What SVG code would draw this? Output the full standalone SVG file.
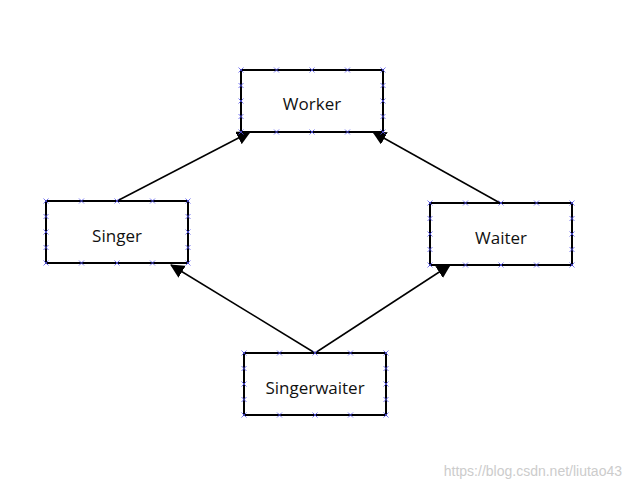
<svg xmlns="http://www.w3.org/2000/svg" xmlns:xlink="http://www.w3.org/1999/xlink" width="630" height="489" viewBox="0 0 630 489">
<style>
.box{fill:#fff;stroke:#000;stroke-width:2}
.lbl{font-family:"Open Sans","Liberation Sans",sans-serif;font-size:17px;fill:#111;text-anchor:middle}
.mk{stroke:#5555ee;stroke-width:0.8}
.ln{stroke:#000;stroke-width:1.5;fill:none}
</style>
<defs>
<marker id="ah" markerWidth="14" markerHeight="14" refX="13" refY="7" orient="auto" markerUnits="userSpaceOnUse"><path d="M0,0 L14,7 L0,14 Z" fill="#000"/></marker>
<g id="x"><path class="mk" d="M-2.5,-2.5 L2.5,2.5 M-2.5,2.5 L2.5,-2.5"/></g>
<g id="marks">
<use href="#x" x="0" y="0"/><use href="#x" x="35.5" y="0"/><use href="#x" x="71" y="0"/><use href="#x" x="106.5" y="0"/><use href="#x" x="142" y="0"/>
<use href="#x" x="0" y="62"/><use href="#x" x="35.5" y="62"/><use href="#x" x="71" y="62"/><use href="#x" x="106.5" y="62"/><use href="#x" x="142" y="62"/>
<use href="#x" x="0" y="15.5"/><use href="#x" x="0" y="31"/><use href="#x" x="0" y="46.5"/>
<use href="#x" x="142" y="15.5"/><use href="#x" x="142" y="31"/><use href="#x" x="142" y="46.5"/>
</g>
</defs>
<rect width="630" height="489" fill="#fff"/>
<g id="connectors">
<line class="ln" x1="117" y1="201" x2="250" y2="132" marker-end="url(#ah)"/>
<line class="ln" x1="500" y1="203" x2="373" y2="132" marker-end="url(#ah)"/>
<line class="ln" x1="315" y1="353" x2="171" y2="265" marker-end="url(#ah)"/>
<line class="ln" x1="315" y1="353" x2="450" y2="265" marker-end="url(#ah)"/>
</g>
<g id="worker" transform="translate(241,70)"><rect class="box" width="142" height="62"/><use href="#marks"/><text class="lbl" x="71" y="40">Worker</text></g>
<g id="singer" transform="translate(46,201)"><rect class="box" width="142" height="62"/><use href="#marks"/><text class="lbl" x="71" y="41">Singer</text></g>
<g id="waiter" transform="translate(430,203)"><rect class="box" width="142" height="62"/><use href="#marks"/><text class="lbl" x="71" y="41">Waiter</text></g>
<g id="singerwaiter" transform="translate(244,353)"><rect class="box" width="142" height="62"/><use href="#marks"/><text class="lbl" x="71" y="41">Singerwaiter</text></g>
<text x="622" y="476" font-family="Liberation Sans,sans-serif" font-size="14" fill="#ccc" text-anchor="end">https://blog.csdn.net/liutao43</text>
</svg>
